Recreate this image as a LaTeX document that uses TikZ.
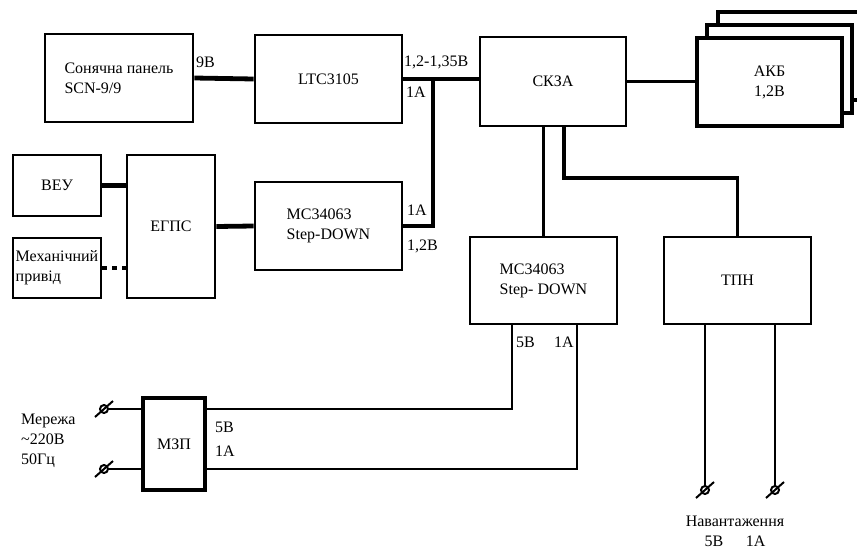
\documentclass[tikz,border=0pt]{standalone}
\usepackage{fontspec}
\setmainfont{Liberation Serif}
\usetikzlibrary{calc}

\begin{document}
\begin{tikzpicture}[x=1pt,y=-1pt,every node/.style={font=\fontsize{16}{20}\selectfont},
  blk/.style={draw,line width=2.6pt,fill=white,align=left,inner sep=0pt},
  akbbox/.style={blk,line width=3.8pt,minimum width=145pt,minimum height=88pt,align=center},
  wfat/.style={line width=4.8pt},
  wmid/.style={line width=3.8pt},
  wlow/.style={line width=2.6pt},
  lbl/.style={anchor=west,inner sep=0pt,align=left},
  term/.style={circle,draw,line width=2pt,fill=white,inner sep=0pt,minimum size=8pt}]
\useasboundingbox (0,0) rectangle (857,549);
% top row
\node[blk,minimum width=148pt,minimum height=88pt] (solar) at (119,78) {Сонячна панель\\SCN-9/9};
\node[blk,minimum width=147pt,minimum height=88pt] (ltc) at (328.5,79) {LTC3105};
\node[blk,minimum width=146pt,minimum height=89pt] (skza) at (553,81.5) {СКЗА};
\node[akbbox] (akb3) at (790.5,56) {};
\node[akbbox] (akb2) at (779.5,69) {};
\node[akbbox] (akb) at (769.5,82) {АКБ\\1,2В};
% wind and mechanical sources
\node[blk,minimum width=88pt,minimum height=61pt] (veu) at (57,185.5) {ВЕУ};
\node[blk,minimum width=88pt,minimum height=60pt] (mech) at (57,268) {Механічний\\привід};
\node[blk,minimum width=88pt,minimum height=143pt] (egps) at (171,226.5) {ЕГПС};
\node[blk,minimum width=147pt,minimum height=88pt] (mc1) at (328.5,226) {MC34063\\Step-DOWN};
% lower converters
\node[blk,minimum width=147pt,minimum height=87pt] (mc2) at (543.5,280.5) {MC34063\\Step- DOWN};
\node[blk,minimum width=147pt,minimum height=87pt] (tpn) at (737.5,280.5) {ТПН};
\node[blk,line width=4.6pt,minimum width=62pt,minimum height=92pt] (mzp) at (174,444) {МЗП};

\coordinate (j1) at (433,79);
\coordinate (j2) at (564,178);
\coordinate (o5) at (512,409);
\coordinate (o1) at (577,469);

\draw[wfat] (solar.east) -- (ltc.west);
\draw[wfat] (ltc.east) -- (ltc.east -| skza.west);
\draw[wfat] (mc1.east) -| (j1);
\draw[wfat] (veu.east) -- (veu.east -| egps.west);
\draw[wfat,dash pattern=on 5pt off 5pt] (mech.east) -- (mech.east -| egps.west);
\draw[wfat] (egps.east) -- (mc1.west);
\draw[wmid] (skza.east) -- (skza.east -| akb.west);
\draw[wmid] (mc2.north |- skza.south) -- (mc2.north);
\draw[wmid] (j2 |- skza.south) -- (j2) -| (tpn.north);
\draw[wlow] (o5 |- mc2.south) -- (o5) -- (o5 -| mzp.east);
\draw[wlow] (o1 |- mc2.south) -- (o1) -- (o1 -| mzp.east);

% terminals
\node[term] (tA) at (104,409) {};
\node[term] (tB) at (104,469) {};
\node[term] (tC) at (705,490) {};
\node[term] (tD) at (775,490) {};
\draw[wlow] (tA) -- (tA -| mzp.west);
\draw[wlow] (tB) -- (tB -| mzp.west);
\draw[wlow] (tC |- tpn.south) -- (tC);
\draw[wlow] (tD |- tpn.south) -- (tD);
\foreach \t in {tA,tB,tC,tD}
  \draw[line width=2pt] ($(\t)+(-9,8)$) -- ($(\t)+(9,-8)$);

% labels
\node[lbl] (u9) at (196,62) {9В};
\node[lbl] (uLtc) at (404,62) {1,2-1,35В};
\node[lbl] (iLtc) at (406,92) {1А};
\node[lbl] (iMc1) at (407,210) {1А};
\node[lbl] (uMc1) at (407,246) {1,2В};
\node[lbl] (uMc2) at (516,342) {5В};
\node[lbl] (iMc2) at (554,342) {1А};
\node[lbl] (uMzp) at (215,427) {5В};
\node[lbl] (iMzp) at (215,451) {1А};
\node[lbl] (grid) at (21,441) {Мережа\\\textasciitilde220В\\50Гц};
\node[align=center,inner sep=0pt] (load) at (735,531) {Навантаження\\5В\hspace{1.4em}1А};
\end{tikzpicture}
\end{document}
